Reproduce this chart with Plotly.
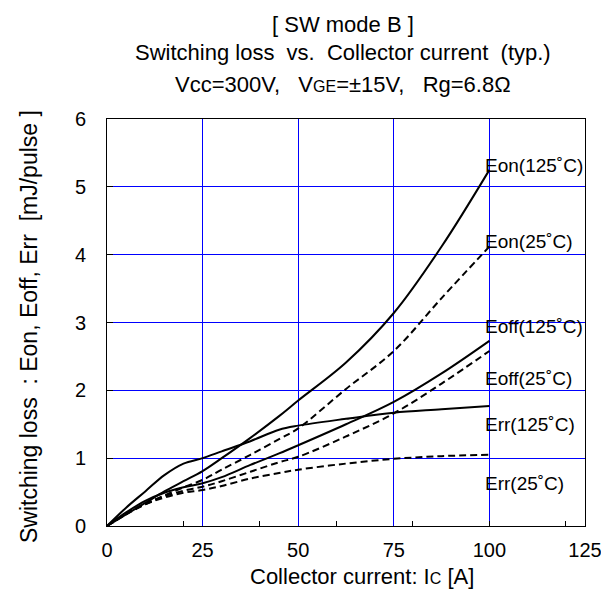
import plotly.graph_objects as go

# ---- data ----
current = [0, 5, 10, 15, 20, 25, 30, 37.5, 45, 50, 62.5, 75, 87.5, 100]
eon_125 = [0, 0.17, 0.34, 0.51, 0.66, 0.81, 1.00, 1.30, 1.62, 1.85, 2.41, 3.14, 4.12, 5.25]
eon_25 = [0, 0.17, 0.32, 0.45, 0.57, 0.68, 0.83, 1.05, 1.28, 1.44, 2.02, 2.58, 3.36, 4.12]
eoff_125 = [0, 0.20, 0.37, 0.49, 0.57, 0.63, 0.72, 0.90, 1.07, 1.19, 1.50, 1.83, 2.25, 2.73]
eoff_25 = [0, 0.18, 0.33, 0.44, 0.52, 0.58, 0.66, 0.80, 0.94, 1.02, 1.32, 1.66, 2.10, 2.58]
err_125 = [0, 0.27, 0.51, 0.75, 0.92, 1.00, 1.10, 1.25, 1.42, 1.48, 1.58, 1.67, 1.72, 1.77]
err_25 = [0, 0.18, 0.32, 0.42, 0.49, 0.53, 0.59, 0.70, 0.78, 0.83, 0.92, 0.99, 1.03, 1.05]

curve_labels = ["Eon(125˚C)", "Eon(25˚C)", "Eoff(125˚C)", "Eoff(25˚C)", "Err(125˚C)", "Err(25˚C)"]
label_x = [98.3, 98.3, 98.3, 98.3, 98.3, 98.3]
label_y = [5.32, 4.19, 2.94, 2.18, 1.49, 0.63]

x_grid_ticks = [0, 25, 50, 75, 100, 125]
x_minor_ticks = [20, 40, 60, 80, 100, 120]
y_ticks = [0, 1, 2, 3, 4, 5, 6]

FONT = "Arial, Liberation Sans, sans-serif"

series = [
    (eon_125, "solid"), (eon_25, "dash"),
    (eoff_125, "solid"), (eoff_25, "dash"),
    (err_125, "solid"), (err_25, "dash"),
]

fig = go.Figure()
for vals, style in series:
    fig.add_trace(go.Scatter(
        x=current, y=vals, mode="lines",
        line=dict(color="black", width=2, shape="spline", smoothing=1.0,
                  dash=("7px,4px" if style == "dash" else "solid")),
        showlegend=False, hoverinfo="skip"))

# invisible trace for the tick-only axis
fig.add_trace(go.Scatter(x=[0, 125], y=[0, 0], xaxis="x2", mode="markers",
                         marker=dict(opacity=0), showlegend=False, hoverinfo="skip"))

for txt, lx, ly in zip(curve_labels, label_x, label_y):
    fig.add_annotation(x=lx, y=ly, xref="x", yref="y", text=txt, showarrow=False,
                       xanchor="left", yanchor="middle",
                       font=dict(family=FONT, size=19, color="black"))

titles = ["[ SW mode B ]",
          "Switching loss  vs.  Collector current  (typ.)",
          "Vcc=300V,   V<span style='font-size:16px'>GE</span>=±15V,   Rg=6.8Ω"]
title_y = [1.233, 1.164, 1.084]
for t, ty in zip(titles, title_y):
    fig.add_annotation(x=0.493, y=ty, xref="paper", yref="paper", text=t, showarrow=False,
                       xanchor="center", yanchor="middle",
                       font=dict(family=FONT, size=22, color="black"))

fig.add_annotation(x=0.533, y=-0.123, xref="paper", yref="paper",
                   text="Collector current: I<span style='font-size:16px'>C</span> [A]",
                   showarrow=False, xanchor="center", yanchor="middle",
                   font=dict(family=FONT, size=22, color="black"))
fig.add_annotation(x=-0.163, y=0.489, xref="paper", yref="paper",
                   text="Switching loss  : Eon, Eoff, Err  [mJ/pulse ]",
                   textangle=-90, showarrow=False, xanchor="center", yanchor="middle",
                   font=dict(family=FONT, size=23, color="black"))

fig.update_layout(
    width=601, height=605,
    margin=dict(l=107, r=16, t=119, b=79, autoexpand=False),
    paper_bgcolor="white", plot_bgcolor="white",
    font=dict(family=FONT, size=20, color="black"),
    xaxis=dict(range=[0, 125], tickvals=x_grid_ticks, ticks="", showgrid=True,
               gridcolor="#0000FF", gridwidth=1, zeroline=False, automargin=False,
               showline=True, mirror=True, linecolor="black", linewidth=1,
               ticklabelstandoff=6, ticklabeloverflow="allow", tickfont=dict(size=20)),
    xaxis2=dict(range=[0, 125], overlaying="x", anchor="y", side="bottom", automargin=False,
                tickvals=x_minor_ticks, ticks="inside", ticklen=5, tickcolor="black",
                showticklabels=False, showgrid=False, zeroline=False, showline=False),
    yaxis=dict(range=[0, 6], tickvals=y_ticks, ticks="inside", ticklen=6, tickcolor="black",
               showgrid=True, gridcolor="#0000FF", gridwidth=1, zeroline=False, automargin=False,
               showline=True, mirror=True, linecolor="black", linewidth=1,
               ticklabelstandoff=16, ticklabeloverflow="allow", tickfont=dict(size=20)),
)

fig.write_html("out.html", config={"displayModeBar": False})

# remove the browser's default page margin so the figure sits at (0, 0)
with open("out.html", "r", encoding="utf-8") as f:
    html = f.read()
html = html.replace("<head>", "<head><style>html,body{margin:0;padding:0;overflow:hidden;}</style>", 1)
with open("out.html", "w", encoding="utf-8") as f:
    f.write(html)
